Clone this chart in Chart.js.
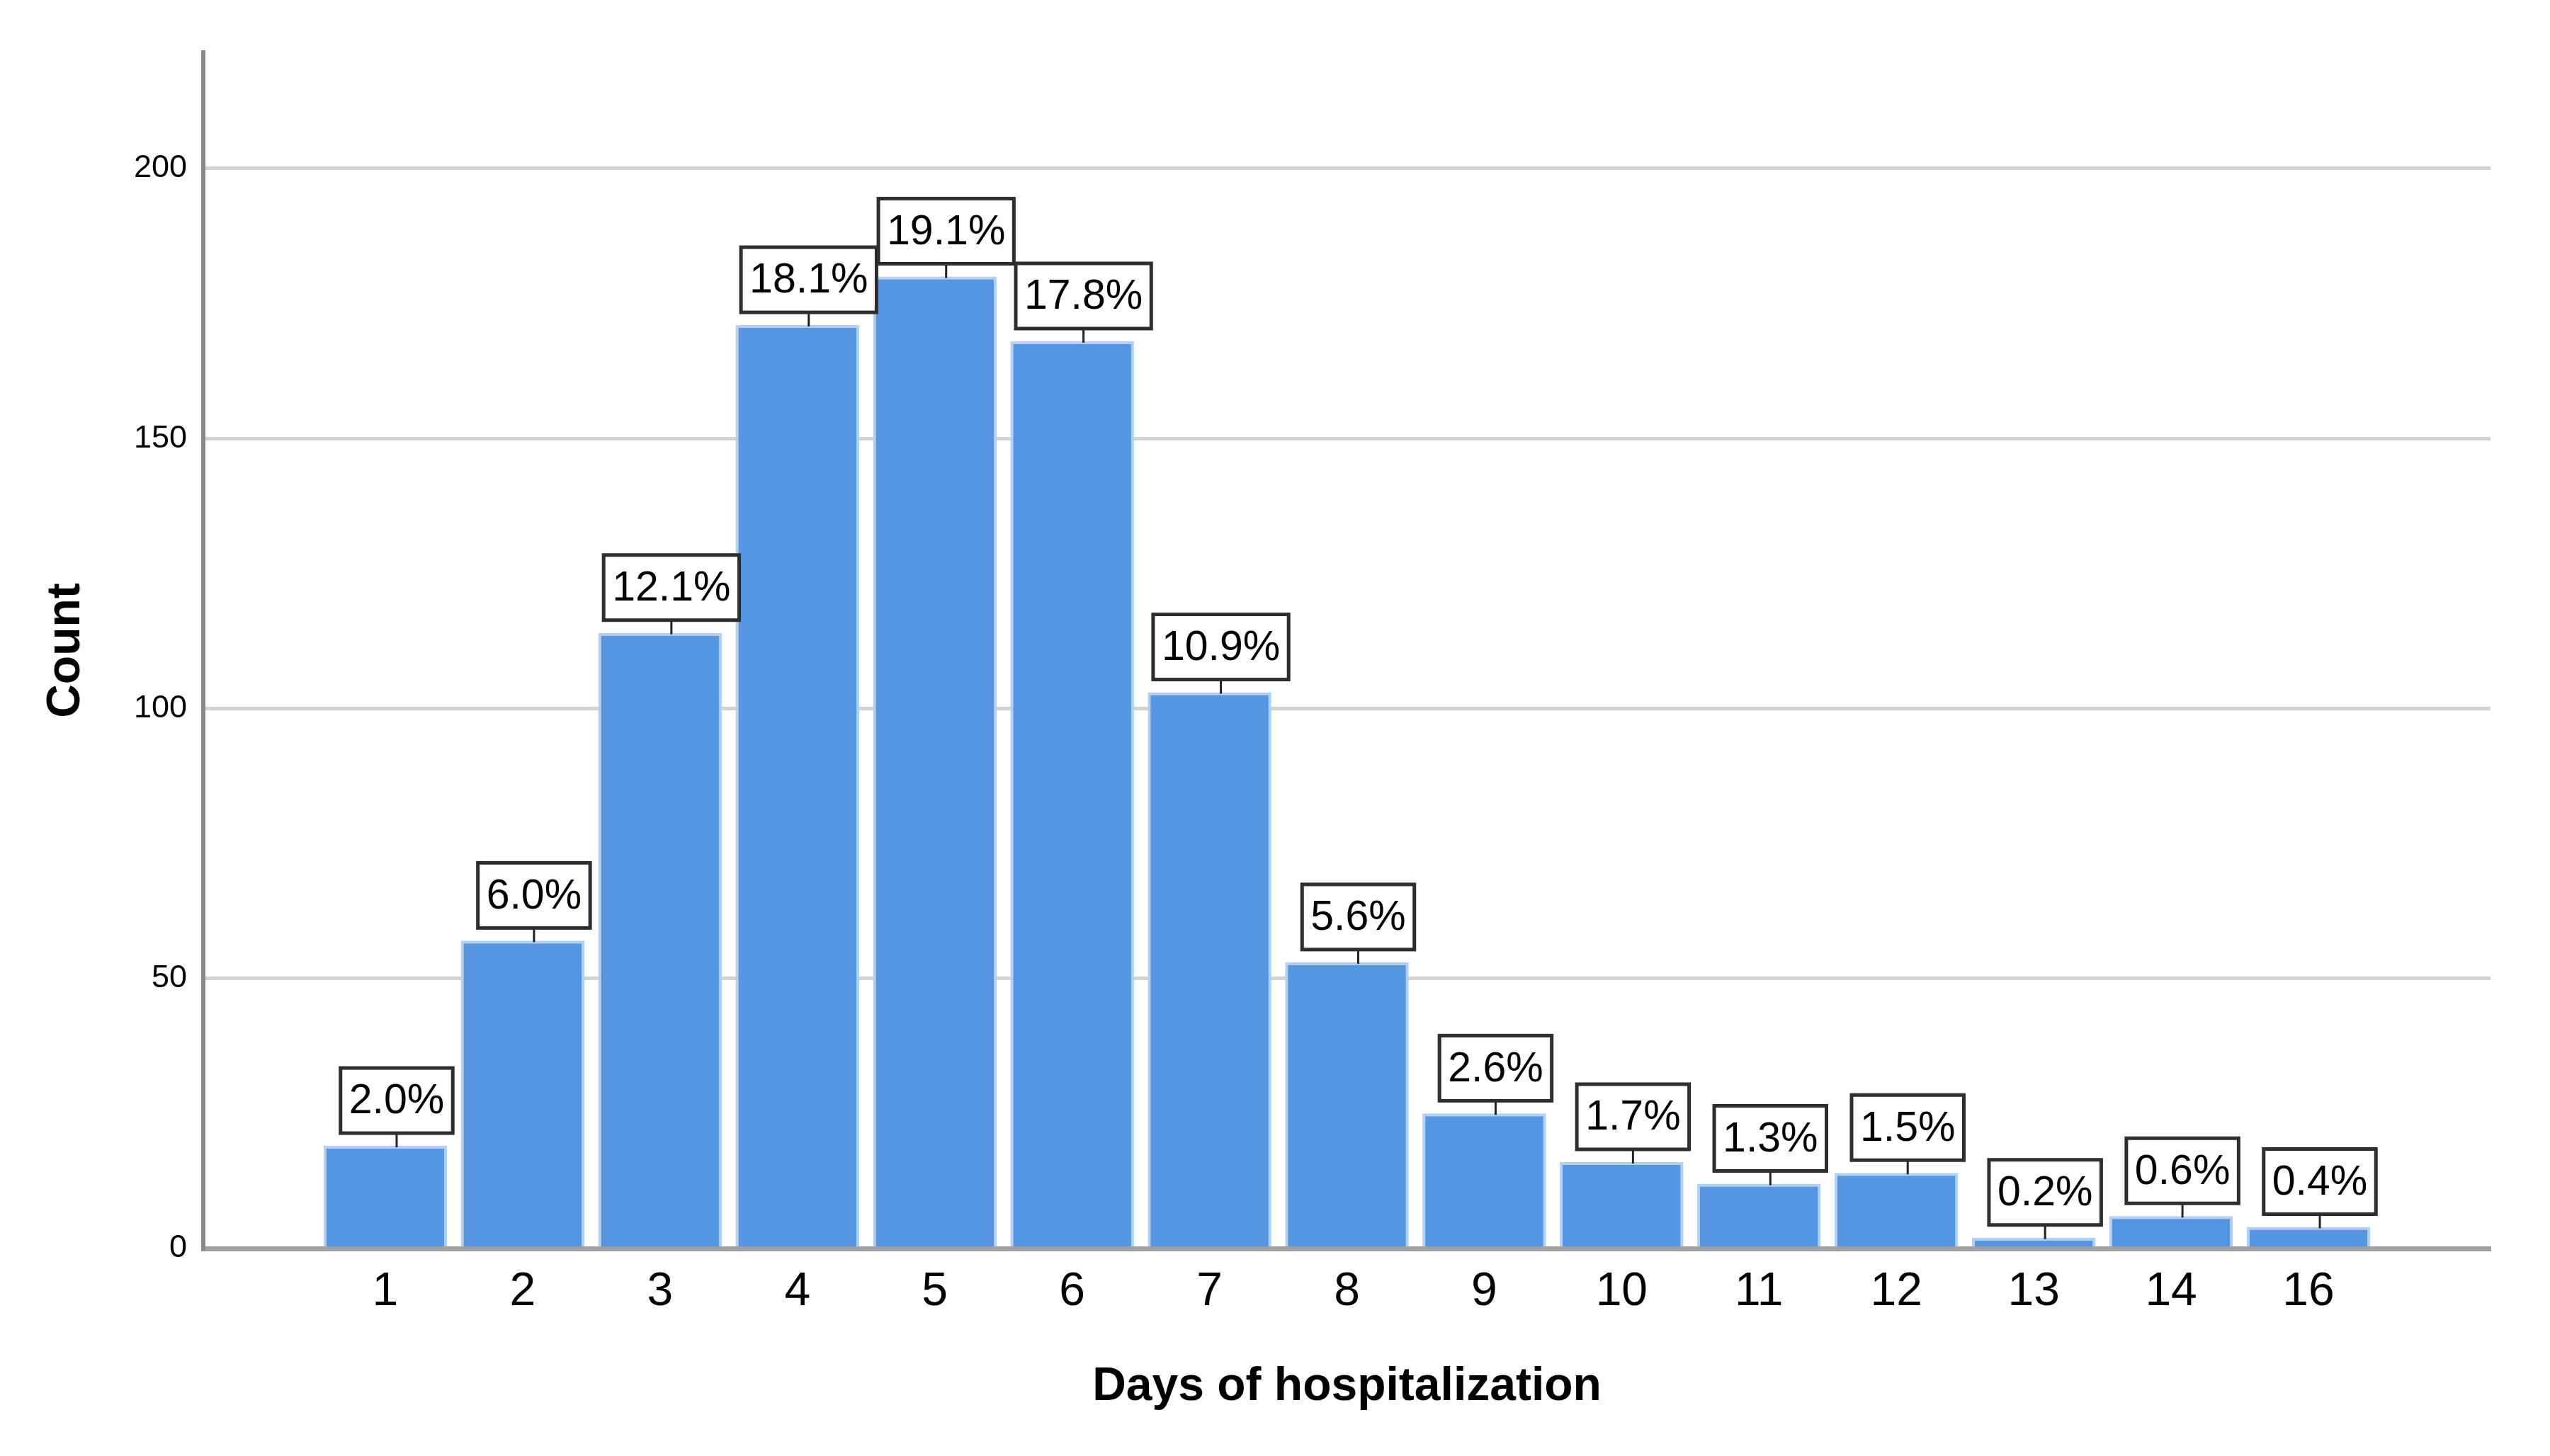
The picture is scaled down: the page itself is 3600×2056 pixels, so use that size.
<!DOCTYPE html>
<html>
<head>
<meta charset="utf-8">
<script src="https://cdn.jsdelivr.net/npm/chart.js@4.4.1/dist/chart.umd.min.js"></script>
<style>
  html, body { margin: 0; padding: 0; background: #ffffff; }
  #wrap { width: 3600px; height: 2056px; }
</style>
</head>
<body>
<div id="wrap"><canvas id="c" width="3600" height="2056"></canvas></div>
<script>
// ---- data ----
const categories = ['1', '2', '3', '4', '5', '6', '7', '8', '9', '10', '11', '12', '13', '14', '16'];
const counts     = [19, 57, 114, 171, 180, 168, 103, 53, 25, 16, 12, 14, 2, 6, 4];
const pctLabels  = ['2.0%', '6.0%', '12.1%', '18.1%', '19.1%', '17.8%', '10.9%', '5.6%', '2.6%', '1.7%', '1.3%', '1.5%', '0.2%', '0.6%', '0.4%'];
const yTickValues = [0, 50, 100, 150, 200];
const xTitle = 'Days of hospitalization';
const yTitle = 'Count';

const FONT = '"Liberation Sans", Arial, Helvetica, sans-serif';

const points = counts.map((v, i) => ({ x: i, y: v }));

const labelBoxes = {
  id: 'labelBoxes',
  afterDatasetsDraw(chart) {
    const ctx = chart.ctx;
    const meta = chart.getDatasetMeta(0);
    ctx.save();
    ctx.font = '59px ' + FONT;
    ctx.textAlign = 'center';
    ctx.textBaseline = 'middle';
    meta.data.forEach((bar, i) => {
      const txt = pctLabels[i];
      const tw = ctx.measureText(txt).width;
      const w = tw + 24;
      const h = 92;
      const cx = bar.x + 16;
      const bottom = bar.y - 18;
      const top = bottom - h;
      // leader line
      ctx.strokeStyle = '#222222';
      ctx.lineWidth = 3;
      ctx.beginPath();
      ctx.moveTo(cx, bottom);
      ctx.lineTo(cx, bar.y + 2);
      ctx.stroke();
      // box
      ctx.fillStyle = '#ffffff';
      ctx.fillRect(cx - w / 2, top, w, h);
      ctx.strokeStyle = '#2E2E2E';
      ctx.lineWidth = 5;
      ctx.strokeRect(cx - w / 2, top, w, h);
      // text
      ctx.fillStyle = '#000000';
      ctx.fillText(txt, cx, top + h / 2 + 2);
    });
    ctx.restore();
  }
};

new Chart(document.getElementById('c'), {
  type: 'bar',
  data: {
    datasets: [{
      data: points,
      backgroundColor: '#5596E3',
      borderColor: '#B3D0F4',
      borderWidth: 4,
      borderSkipped: 'bottom',
      barPercentage: 0.9,
      categoryPercentage: 1.0
    }]
  },
  options: {
    responsive: false,
    devicePixelRatio: 1,
    animation: false,
    layout: { padding: { left: 0, top: 74, right: 84, bottom: 0 } },
    plugins: {
      legend: { display: false },
      tooltip: { enabled: false }
    },
    scales: {
      x: {
        type: 'linear',
        offset: false,
        min: -1.325,
        max: 15.325,
        afterBuildTicks: s => { s.ticks = categories.map((c, i) => ({ value: i })); },
        afterFit: s => { s.height = 2056 - 1763; },
        ticks: {
          autoSkip: false,
          maxRotation: 0,
          padding: 22,
          color: '#000000',
          font: { family: FONT, size: 66 },
          callback: (v) => categories[v] !== undefined ? categories[v] : ''
        },
        grid: { display: false, drawTicks: false },
        border: { display: true, color: '#A0A0A0', width: 7 },
        title: {
          display: true,
          text: xTitle,
          color: '#000000',
          font: { family: FONT, size: 66, weight: 'bold' },
          padding: { top: 0, bottom: 58 }
        }
      },
      y: {
        min: 0,
        max: 221.5,
        afterBuildTicks: s => { s.ticks = yTickValues.map(v => ({ value: v })); },
        afterFit: s => { s.width = 287; },
        ticks: {
          padding: 23,
          color: '#000000',
          font: { family: FONT, size: 45 }
        },
        grid: {
          drawTicks: false,
          lineWidth: 5,
          color: ctx => (ctx.tick && ctx.tick.value === 0) ? 'rgba(0,0,0,0)' : '#D3D3D3'
        },
        border: { display: true, color: '#8A8A8A', width: 6 },
        title: {
          display: true,
          text: yTitle,
          color: '#000000',
          font: { family: FONT, size: 66, weight: 'bold' },
          padding: { top: 54, bottom: 0 }
        }
      }
    }
  },
  plugins: [labelBoxes]
});
</script>
</body>
</html>
